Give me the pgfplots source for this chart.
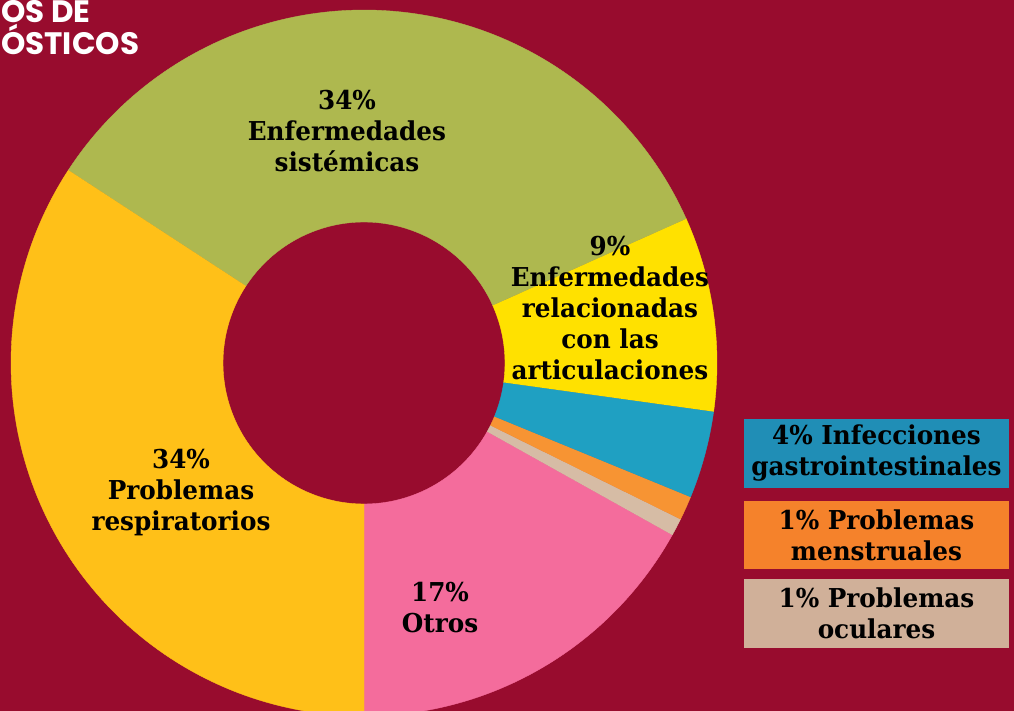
\documentclass[border=0pt]{standalone}
\usepackage{pgfplots}
\pgfplotsset{compat=1.18}
\usepackage{fontspec}
\setmainfont{DejaVu Serif}[FakeStretch=0.95]
\newfontfamily\titlefont{Poppins}
\definecolor{bg}{HTML}{980C2E}
\definecolor{cOlive}{HTML}{AEB84F}
\definecolor{cGold}{HTML}{FFC018}
\definecolor{cYellow}{HTML}{FFE100}
\definecolor{cBlue}{HTML}{1FA0C2}
\definecolor{cOrange}{HTML}{F79433}
\definecolor{cBeige}{HTML}{D6BCA5}
\definecolor{cPink}{HTML}{F46C9C}
\definecolor{bBlue}{HTML}{208EB6}
\definecolor{bOrange}{HTML}{F5822B}
\definecolor{bBeige}{HTML}{D0B099}
% ring sector: colour, start angle, end angle (centre 364,348; radii 353 and 141)
% parameter 0..1.1 runs along the outer arc, 1.1..2.2 back along the inner arc
\newcommand\ring[3]{%
\addplot[fill=#1,draw=#1,line width=0.4bp,domain=0:2.2,samples=221]
({364+ifthenelse(x<=1.1,353,141)*cos((#2)+((#3)-(#2))*min(1,max(0,ifthenelse(x<=1.1,x,2.2-x))))},
 {348+ifthenelse(x<=1.1,353,141)*sin((#2)+((#3)-(#2))*min(1,max(0,ifthenelse(x<=1.1,x,2.2-x))))});}
\begin{document}
\begin{tikzpicture}
% shares in percent, counterclockwise from the bottom
\def\vOtros{16.9}
\def\vOculares{0.8}
\def\vMenstruales{1.1}
\def\vInfecciones{4.0}
\def\vArticulaciones{8.9}
\def\vSistemicas{34.1}
\def\vRespiratorios{34.2}
\pgfmathsetmacro\aA{-90}
\pgfmathsetmacro\aB{\aA+3.6*\vOtros}
\pgfmathsetmacro\aC{\aB+3.6*\vOculares}
\pgfmathsetmacro\aD{\aC+3.6*\vMenstruales}
\pgfmathsetmacro\aE{\aD+3.6*\vInfecciones}
\pgfmathsetmacro\aF{\aE+3.6*\vArticulaciones}
\pgfmathsetmacro\aG{\aF+3.6*\vSistemicas}
\pgfmathsetmacro\aH{\aG+3.6*\vRespiratorios}
\useasboundingbox (0,0) rectangle (1014bp,711bp);
\clip (0,0) rectangle (1014bp,711bp);
\fill[bg] (0,0) rectangle (1014bp,711bp);
\begin{axis}[at={(0,0)}, anchor=south west, scale only axis,
  width=1014bp, height=711bp, xmin=0, xmax=1014, ymin=0, ymax=711, hide axis]
\ring{cPink}{\aA}{\aB}
\ring{cBeige}{\aB}{\aC}
\ring{cOrange}{\aC}{\aD}
\ring{cBlue}{\aD}{\aE}
\ring{cYellow}{\aE}{\aF}
\ring{cOlive}{\aF}{\aG}
\ring{cGold}{\aG}{\aH}
\end{axis}
\begin{scope}[x=1bp,y=1bp,every node/.style={align=center,inner sep=0pt,font=\fontsize{26bp}{31bp}\selectfont\bfseries,text=black}]
\node at (347,580) {34\%\\Enfermedades\\sistémicas};
\node at (610,403) {9\%\\Enfermedades\\relacionadas\\con las\\articulaciones};
\node at (181,218) {34\%\\Problemas\\respiratorios};
\node at (440,103) {17\%\\Otros};
\node[fill=bBlue,minimum width=265bp,minimum height=69bp] at (876.5,257.5) {4\% Infecciones\\gastrointestinales};
\node[fill=bOrange,minimum width=265bp,minimum height=68bp] at (876.5,176) {1\% Problemas\\menstruales};
\node[fill=bBeige,minimum width=265bp,minimum height=69bp] at (876.5,97.5) {1\% Problemas\\oculares};
\node[anchor=base west,text=white,font=\titlefont\bfseries\fontsize{31bp}{37bp}\selectfont] at (1,688) {OS DE};
\node[anchor=base west,text=white,font=\titlefont\bfseries\fontsize{31bp}{37bp}\selectfont] at (1,656) {ÓSTICOS};
\end{scope}
\end{tikzpicture}
\end{document}
